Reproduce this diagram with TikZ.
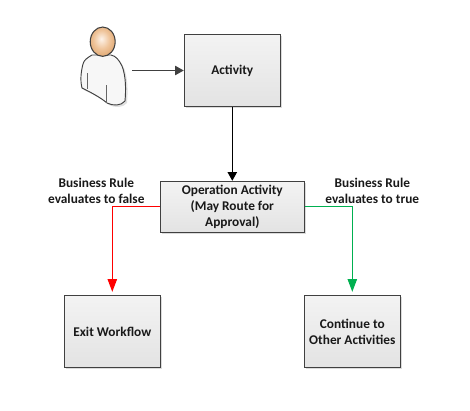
\documentclass[tikz,border=0pt]{standalone}
\usepackage{fontspec}
\setmainfont{Carlito}
\usetikzlibrary{arrows.meta,shadows,shapes.geometric}
\definecolor{edgegray}{HTML}{404040}
\definecolor{boxtop}{HTML}{F3F3F3}
\definecolor{boxbot}{HTML}{E3E3E3}
\definecolor{greenline}{HTML}{00B050}
\definecolor{headin}{HTML}{FDF3EA}
\definecolor{headmid}{HTML}{EFC49A}
\definecolor{headout}{HTML}{D08A48}
\pgfdeclareradialshading{headshade}{\pgfpoint{-3bp}{5bp}}{color(0bp)=(headin);color(16bp)=(headmid);color(42bp)=(headout);color(60bp)=(headout)}
\tikzset{
  boxnode/.style={draw=edgegray,line width=0.8pt,top color=boxtop,bottom color=boxbot,
    align=center,inner sep=0pt,font=\fontsize{10pt}{12pt}\selectfont\bfseries,text=black!90,
    drop shadow={shadow xshift=1.1pt,shadow yshift=-1.3pt,fill=black!14,opacity=1}},
  lbl/.style={align=center,inner sep=0pt,font=\fontsize{10pt}{12pt}\selectfont\bfseries,text=black!90},
  flow/.style={line width=0.8pt,shorten >=2.2pt},
  bigtip/.style={-{Triangle[length=9.5pt,width=7pt]}},
  smalltip/.style={-{Triangle[length=6.5pt,width=7pt]}},
}
\begin{document}
\begin{tikzpicture}[x=0.75pt,y=-0.75pt]
\useasboundingbox (0,0) rectangle (470,410);
% person
\fill[black!12] (94,57) .. controls (89,60) and (86,62) .. (85,66)
  .. controls (83,74) and (82,82) .. (84,90)
  .. controls (92,94) and (102,99) .. (109,105)
  .. controls (115,108) and (123,108) .. (127,103)
  .. controls (128,92) and (128,78) .. (124,68)
  .. controls (121,62) and (118,58) .. (113,57) -- cycle;
\path[draw=edgegray,line width=0.7pt,fill=black!3]
  (92,55) .. controls (87,58) and (84,60) .. (83,64)
  .. controls (81,72) and (80,80) .. (82,88)
  .. controls (90,92) and (100,97) .. (107,103)
  .. controls (113,106) and (121,106) .. (125,101)
  .. controls (126,90) and (126,76) .. (122,66)
  .. controls (119,60) and (116,56) .. (111,55)
  -- cycle;
\draw[edgegray!80,line width=0.6pt] (87.5,73) -- (87.5,89);
\draw[edgegray!80,line width=0.6pt] (106.5,85) -- (106.5,103);
\node[ellipse,draw=edgegray,line width=0.8pt,minimum width=18.7pt,minimum height=22pt,inner sep=0pt,
  shading=headshade] (head) at (102.7,41.7) {};
\coordinate (src) at (132,70.5);
% boxes
\node[boxnode,minimum width=72pt,minimum height=54pt] (activity) at (232.3,70.5) {Activity};
\node[boxnode,minimum width=108pt,minimum height=38.2pt] (op) at (232.3,206.8) {Operation Activity\\(May Route for\\Approval)};
\node[boxnode,minimum width=72pt,minimum height=54.3pt] (exit) at (112.3,331.5) {Exit Workflow};
\node[boxnode,minimum width=72pt,minimum height=54.3pt] (cont) at (352.3,331.5) {Continue to\\Other Activities};
% labels
\node[lbl] (lfalse) at (96.3,190.8) {Business Rule\\evaluates to false};
\node[lbl] (ltrue) at (372.3,190.8) {Business Rule\\evaluates to true};
% connectors
\draw[line width=0.8pt,edgegray,smalltip] (src) -- (activity.west);
\draw[line width=0.8pt,black,smalltip] (activity.south) -- (op.north);
\draw[flow,red,bigtip] (op.west) -| (exit.north);
\draw[flow,greenline,bigtip] (op.east) -| (cont.north);
\end{tikzpicture}
\end{document}
